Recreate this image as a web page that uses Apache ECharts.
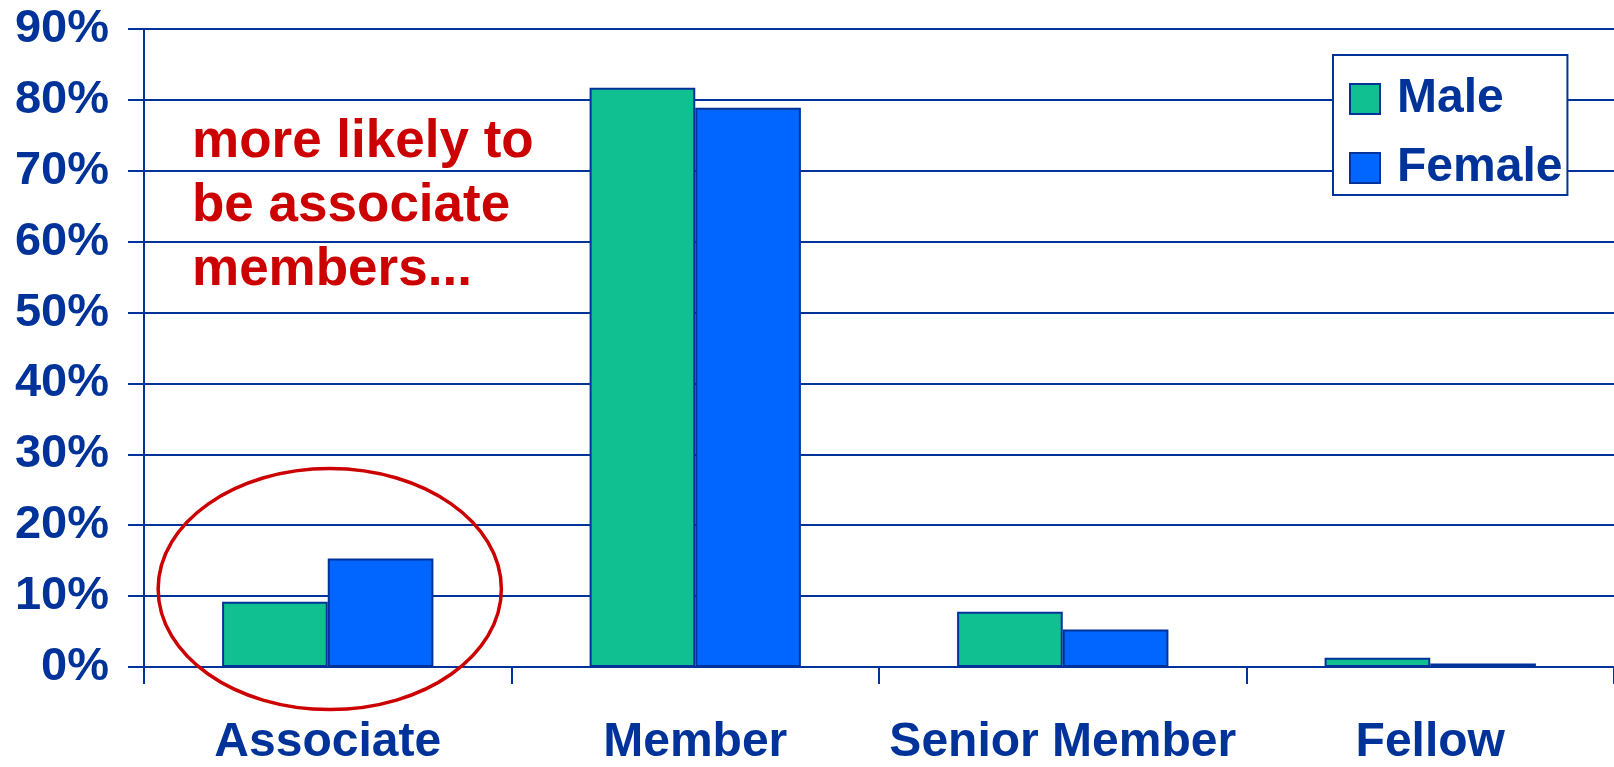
<!DOCTYPE html>
<html><head><meta charset="utf-8">
<script src="https://cdn.jsdelivr.net/npm/echarts@6/dist/echarts.min.js"></script>
<style>html,body{margin:0;padding:0;background:#fff;overflow:hidden;}#chart{width:1614px;height:767px;}</style>
</head><body><div id="chart"></div>
<script>
const categories = ['Associate', 'Member', 'Senior Member', 'Fellow'];
const maleValues = [9.2, 81.7, 7.8, 1.3];
const femaleValues = [15.3, 78.9, 5.3, 0.5];
const seriesNames = ['Male', 'Female'];
const yMin = 0, yMax = 90, yStep = 10;
const annotationLines = ['more likely to', 'be associate', 'members...'];

const FONT = '"Liberation Sans", Arial, Helvetica, sans-serif';
const NAVY = '#003399';
const RED = '#CC0000';

const chart = echarts.init(document.getElementById('chart'));
chart.setOption({
  animation: false,
  backgroundColor: '#ffffff',
  grid: { left: 144, top: 29, right: -4, bottom: 95, containLabel: false },
  legend: {
    orient: 'vertical', left: 1333, top: 55,
    itemWidth: 30, itemHeight: 30, itemGap: 21,
    padding: [20, 5, 3, 16],
    borderColor: NAVY, borderWidth: 2, backgroundColor: '#fff',
    icon: 'rect',
    textStyle: { fontSize: 48, fontWeight: 'bold', color: NAVY, fontFamily: FONT, lineHeight: 48, padding: [0, 0, 0, 12] },
    data: seriesNames
  },
  xAxis: {
    type: 'category', data: categories,
    axisLine: { lineStyle: { color: NAVY, width: 2 } },
    axisTick: { show: true, length: 17, lineStyle: { color: NAVY, width: 2 } },
    axisLabel: { fontSize: 48, fontWeight: 'bold', color: NAVY, fontFamily: FONT, margin: 52, interval: 0 },
    splitLine: { show: false }
  },
  yAxis: {
    type: 'value', min: yMin, max: yMax, interval: yStep,
    axisLine: { show: true, lineStyle: { color: NAVY, width: 2 } },
    axisTick: { show: true, length: 16, lineStyle: { color: NAVY, width: 2 } },
    axisLabel: { formatter: '{value}%', fontSize: 47, fontWeight: 'bold', color: NAVY, fontFamily: FONT, margin: 35 },
    splitLine: { show: true, lineStyle: { color: NAVY, width: 2 } }
  },
  series: [
    { name: seriesNames[0], type: 'bar', data: maleValues, barGap: '0%', barCategoryGap: '42.5%',
      itemStyle: { color: '#10C090', borderColor: NAVY, borderWidth: 2 } },
    { name: seriesNames[1], type: 'bar', data: femaleValues, barGap: '0%', barCategoryGap: '42.5%',
      itemStyle: { color: '#0066FF', borderColor: NAVY, borderWidth: 2 } }
  ]
});

// Annotation ellipse around the first category, placed through the chart's scales
const c0 = chart.convertToPixel({ xAxisIndex: 0 }, categories[0]);
const c1 = chart.convertToPixel({ xAxisIndex: 0 }, categories[1]);
const yc = chart.convertToPixel({ yAxisIndex: 0 }, 11);
const y0 = chart.convertToPixel({ yAxisIndex: 0 }, 0);
const yr = chart.convertToPixel({ yAxisIndex: 0 }, 17);
chart.setOption({
  graphic: [
    { type: 'ellipse', shape: { cx: c0 + 2, cy: yc, rx: (c1 - c0) * 0.467, ry: y0 - yr },
      style: { fill: 'none', stroke: RED, lineWidth: 3.5 }, z: 100 },
    { type: 'text', left: 192, top: 110,
      style: { text: annotationLines.join('\n'), fill: RED, font: 'bold 53px ' + FONT, lineHeight: 64 }, z: 100 }
  ]
});
</script></body></html>
